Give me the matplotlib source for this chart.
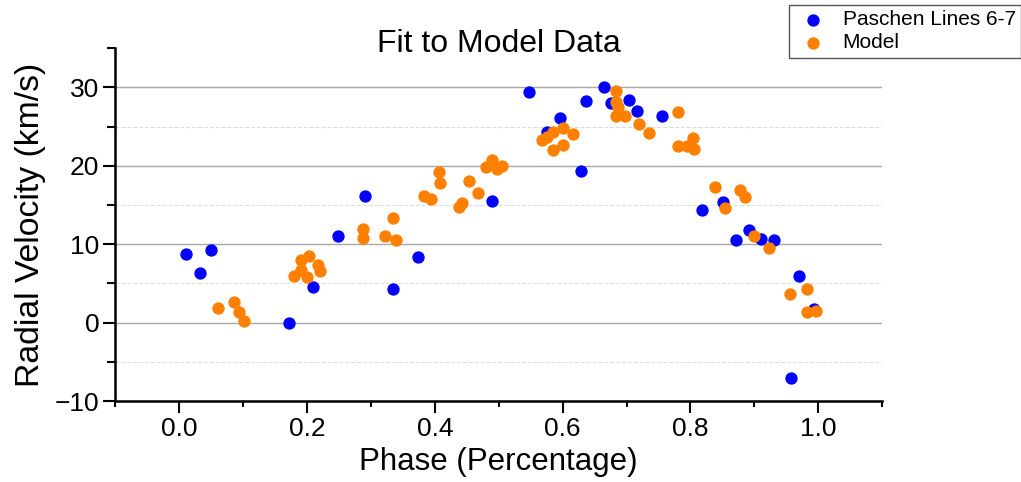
import matplotlib
matplotlib.use("Agg")
import matplotlib.pyplot as plt
from matplotlib.ticker import MultipleLocator, FixedLocator
import numpy as np

plt.rcParams['font.family'] = ['Liberation Sans', 'DejaVu Sans']

## Observed radial velocities (Paschen lines 6-7)
paschen_phase = [0.010, 0.033, 0.050, 0.171, 0.210, 0.249, 0.290, 0.334, 0.374,
                 0.490, 0.548, 0.576, 0.596, 0.628, 0.636, 0.664, 0.676, 0.704,
                 0.716, 0.755, 0.818, 0.851, 0.871, 0.891, 0.911, 0.930, 0.958,
                 0.970, 0.994]
paschen_rv = [8.8, 6.3, 9.3, 0.0, 4.5, 11.1, 16.2, 4.3, 8.4,
              15.5, 29.4, 24.3, 26.1, 19.4, 28.3, 30.0, 28.0, 28.4,
              27.0, 26.4, 14.3, 15.4, 10.5, 11.8, 10.7, 10.6, -7.0,
              5.9, 1.7]

## Model values
model_phase = [0.061, 0.085, 0.093, 0.101, 0.180, 0.190, 0.190, 0.200, 0.203,
               0.217, 0.220, 0.287, 0.287, 0.322, 0.335, 0.339, 0.383, 0.394,
               0.407, 0.408, 0.438, 0.442, 0.454, 0.467, 0.480, 0.490, 0.497,
               0.505, 0.567, 0.576, 0.585, 0.585, 0.600, 0.600, 0.616, 0.683,
               0.683, 0.686, 0.684, 0.698, 0.719, 0.735, 0.780, 0.780, 0.794,
               0.804, 0.805, 0.838, 0.854, 0.877, 0.885, 0.900, 0.923, 0.956,
               0.983, 0.982, 0.997]
model_rv = [1.9, 2.6, 1.3, 0.2, 5.9, 6.7, 8.0, 5.8, 8.5,
            7.3, 6.6, 12.0, 10.8, 11.1, 13.3, 10.5, 16.2, 15.8,
            19.2, 17.8, 14.7, 15.3, 18.0, 16.5, 19.9, 20.8, 19.6,
            20.0, 23.3, 23.7, 24.3, 22.0, 24.8, 22.7, 24.0, 29.5,
            28.1, 27.5, 26.3, 26.3, 25.3, 24.2, 26.9, 22.5, 22.5,
            23.6, 22.2, 17.3, 14.6, 16.9, 16.0, 11.1, 9.5, 3.7,
            4.3, 1.4, 1.5]

fig = plt.figure(figsize=(10.21, 4.82), dpi=100)
ax = fig.add_axes([0.113, 0.168, 0.751, 0.732])

ax.scatter(paschen_phase, paschen_rv, s=62, color='#0000ff', label='Paschen Lines 6-7', zorder=3)
ax.scatter(model_phase, model_rv, s=62, color='#ff8000', label='Model', zorder=4)

ax.set_xlim(-0.1, 1.1)
ax.set_ylim(-10, 35)
ax.set_xticks(np.arange(0, 1.01, 0.2))
ax.xaxis.set_minor_locator(MultipleLocator(0.1))
ax.set_yticks([-10, 0, 10, 20, 30])
ax.yaxis.set_minor_locator(FixedLocator([-5, 5, 15, 25, 35]))

#Grid: solid gray for majors, dashed light gray for minors
ax.grid(axis='y', which='major', color='#a8a8a8', linewidth=1.0, zorder=0)
ax.grid(axis='y', which='minor', color='#dddddd', linewidth=0.8, linestyle='--', zorder=0)
ax.set_axisbelow(True)
#no grid line on the top edge
ax.yaxis.get_minor_ticks(5)[-1].gridline.set_visible(False)

ax.spines['top'].set_visible(False)
ax.spines['right'].set_visible(False)
ax.spines['left'].set_linewidth(1.8)
ax.spines['bottom'].set_linewidth(1.8)
ax.tick_params(axis='both', which='major', length=8.5, width=1.5, labelsize=19, pad=3)
ax.tick_params(axis='x', which='minor', length=4, width=1.5)
ax.tick_params(axis='y', which='minor', length=6, width=1.5)
ax.set_xticklabels(['0.0', '0.2', '0.4', '0.6', '0.8', '1.0'])
ax.set_yticklabels(['\u221210', '0', '10', '20', '30'])

ax.set_xlabel('Phase (Percentage)', fontsize=22.5, labelpad=4)
ax.set_ylabel('Radial Velocity (km/s)', fontsize=24.3, labelpad=6)
ax.set_title('Fit to Model Data', fontsize=23, y=0.989, pad=0)

fig.legend(loc='upper right', bbox_to_anchor=(1.0, 0.9896), fontsize=15,
           frameon=True, fancybox=False, edgecolor='#555555', framealpha=1,
           borderpad=0.25, labelspacing=0.2, handletextpad=0.54, handlelength=1.8,
           borderaxespad=0)

fig.savefig('out.png', dpi=100)
